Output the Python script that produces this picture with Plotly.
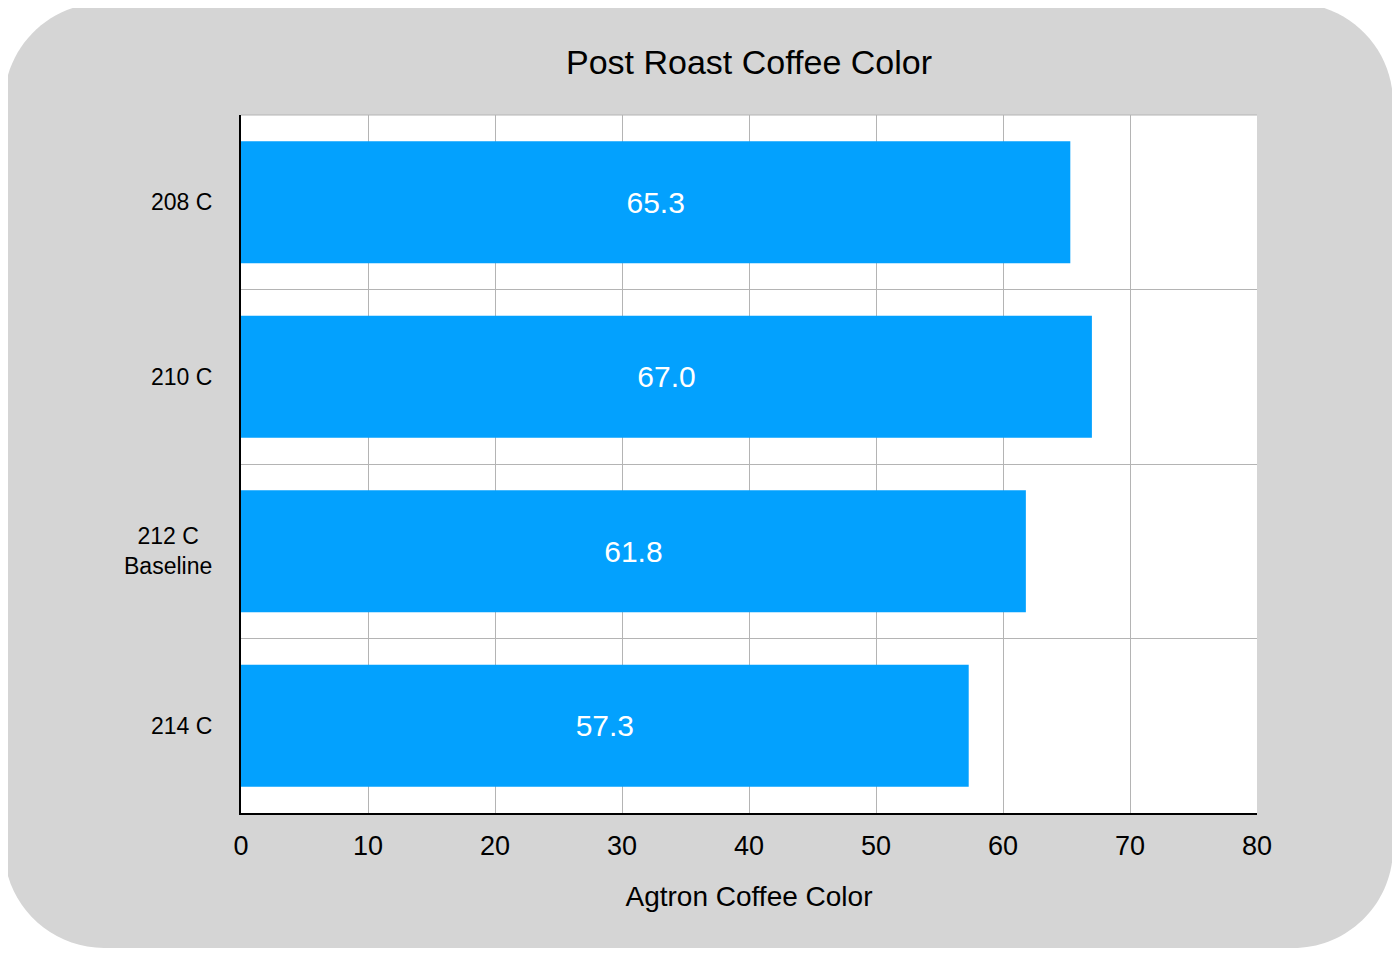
import plotly.graph_objects as go

# values
categories = ["208 C", "210 C", "212 C<br>Baseline", "214 C"]
agtron = [65.3, 67.0, 61.8, 57.3]
x_ticks = [0, 10, 20, 30, 40, 50, 60, 70, 80]

# the page body has an 8px margin, so the figure is sized/offset to fit
OFF = 8
W, H = 1400 - OFF, 953 - OFF
L, T = 241 - OFF, 115 - OFF
PW, PH = 1016, 698
R, B = W - L - PW, H - T - PH
FONT = "Liberation Sans, Arial, Helvetica, sans-serif"


def to_paper(px, py):
    # page pixel position -> paper fraction
    return (px - OFF - L) / PW, (T + PH - (py - OFF)) / PH


def rounded_rect(x0, y0, x1, y1, r):
    k = 0.5523 * r
    pts = [
        ("M", [(x0 + r, y0)]),
        ("L", [(x1 - r, y0)]),
        ("C", [(x1 - r + k, y0), (x1, y0 + r - k), (x1, y0 + r)]),
        ("L", [(x1, y1 - r)]),
        ("C", [(x1, y1 - r + k), (x1 - r + k, y1), (x1 - r, y1)]),
        ("L", [(x0 + r, y1)]),
        ("C", [(x0 + r - k, y1), (x0, y1 - r + k), (x0, y1 - r)]),
        ("L", [(x0, y0 + r)]),
        ("C", [(x0, y0 + r - k), (x0 + r - k, y0), (x0 + r, y0)]),
    ]
    out = []
    for cmd, coords in pts:
        s = " ".join("%.5f,%.5f" % to_paper(px, py) for px, py in coords)
        out.append(cmd + " " + s)
    return " ".join(out) + " Z"


fig = go.Figure()
fig.add_trace(go.Bar(
    y=categories,
    x=agtron,
    orientation="h",
    marker=dict(color="#03A1FE", line=dict(width=0)),
    text=["%.1f" % v for v in agtron],
    textposition="inside",
    insidetextanchor="middle",
    textfont=dict(family=FONT, size=30, color="white"),
    hoverinfo="x+y",
))

# grey rounded card behind the chart
fig.add_shape(
    type="path",
    path=rounded_rect(4, 3, 1393, 948, 100),
    xref="paper", yref="paper",
    fillcolor="#D5D5D5",
    line=dict(width=0),
    layer="below",
)
# white plot area on top of the card
fig.add_shape(
    type="rect", xref="paper", yref="paper",
    x0=0, x1=1, y0=0, y1=1,
    fillcolor="white", line=dict(width=0),
    layer="below",
)

# top border line of the plot area (gridline at the first boundary)
fig.add_shape(
    type="line", xref="paper", yref="paper",
    x0=0, x1=1, y0=1, y1=1,
    line=dict(color="#B4B4B4", width=1),
)

# category labels as annotations so the two-line one is centred
for cat in categories:
    fig.add_annotation(
        x=-27 / PW, xref="paper", xanchor="right",
        y=cat, yref="y", yanchor="middle",
        text=cat, showarrow=False, align="center",
        font=dict(family=FONT, size=23, color="black"),
    )

fig.update_layout(
    width=W, height=H,
    margin=dict(l=L, r=R, t=T, b=B),
    paper_bgcolor="white",
    plot_bgcolor="white",
    bargap=0.3,
    showlegend=False,
    title=dict(
        text="Post Roast Coffee Color",
        x=(749 - OFF) / W, xanchor="center",
        y=1 - (62 - OFF) / H, yanchor="middle",
        font=dict(family=FONT, size=34, color="black"),
    ),
    xaxis=dict(
        range=[0, 80],
        tickvals=x_ticks,
        showgrid=True, gridcolor="#B4B4B4", gridwidth=1,
        zeroline=False,
        showline=True, linecolor="black", linewidth=2,
        ticks="outside", ticklen=8, tickcolor="rgba(0,0,0,0)",
        tickfont=dict(family=FONT, size=27, color="black"),
        title=dict(text="Agtron Coffee Color", standoff=26,
                   font=dict(family=FONT, size=28, color="black")),
    ),
    yaxis=dict(
        autorange="reversed",
        tickson="boundaries",
        showgrid=True, gridcolor="#B4B4B4", gridwidth=1,
        showline=True, linecolor="black", linewidth=2,
        showticklabels=False,
        ticks="",
    ),
)

fig.write_html("out.html")
